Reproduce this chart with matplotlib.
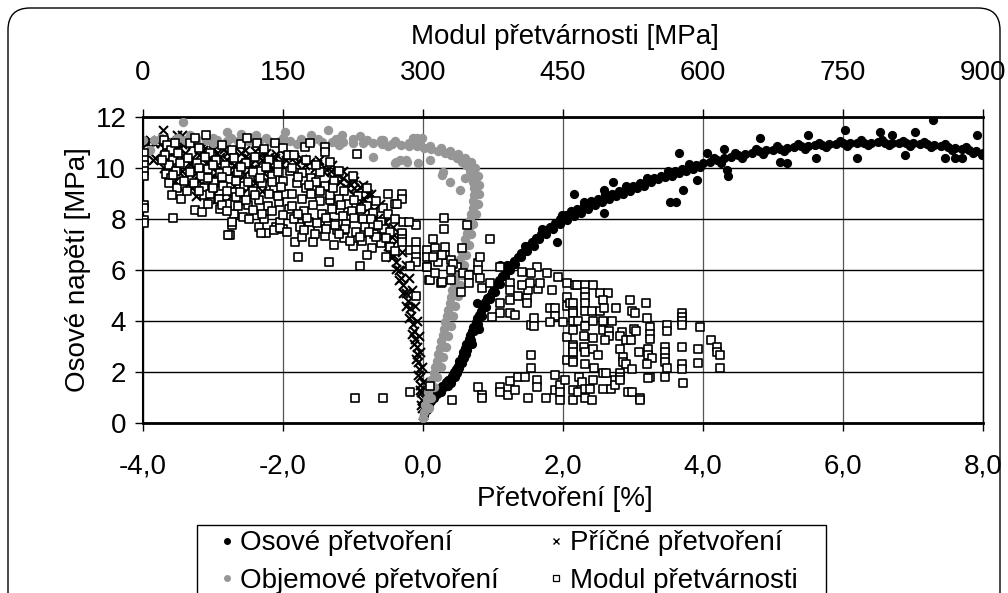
import numpy as np
import matplotlib
matplotlib.use("Agg")
import matplotlib.pyplot as plt
from matplotlib.lines import Line2D
from matplotlib.patches import FancyBboxPatch, Rectangle

plt.rcParams['font.family'] = ['Liberation Sans', 'DejaVu Sans']

# ---- data ----
# axial strain [%], stress [MPa]
osove_body = [
    (0.02, 0.3), (0.05, 0.5), (0.08, 0.7), (0.12, 0.85), (0.16, 1.0), (0.2, 1.15), (0.24, 1.3), (0.27, 1.45),
    (0.3, 1.4), (0.33, 1.6), (0.36, 1.7), (0.39, 1.65), (0.41, 1.85), (0.44, 2.0), (0.47, 2.1), (0.5, 2.25),
    (0.52, 2.45), (0.55, 2.6), (0.57, 2.8), (0.6, 2.95), (0.62, 3.1), (0.65, 3.3), (0.67, 3.45), (0.7, 3.6),
    (0.72, 3.75), (0.75, 3.95), (0.77, 4.1), (0.8, 4.25), (0.83, 4.4), (0.86, 4.6), (0.89, 4.75), (0.92, 4.9),
    (0.95, 5.0), (0.98, 5.15), (1.01, 5.3), (1.05, 5.45), (1.09, 5.6), (1.13, 5.75), (1.17, 5.9), (1.21, 6.05),
    (1.25, 6.2), (1.3, 6.35), (1.35, 6.5), (1.4, 6.65), (1.45, 6.8), (1.5, 6.95), (1.56, 7.1), (1.62, 7.25),
    (1.68, 7.4), (1.75, 7.55), (1.82, 7.7), (1.89, 7.85), (1.96, 8.0), (2.04, 8.15), (2.12, 8.3), (2.2, 8.4),
    (2.3, 8.55), (2.4, 8.7), (2.5, 8.8), (2.6, 8.9), (2.7, 9.0), (2.8, 9.1), (2.9, 9.2), (3.0, 9.3),
    (3.1, 9.4), (3.2, 9.5), (3.3, 9.6), (3.4, 9.7), (3.5, 9.8), (3.6, 9.9), (3.7, 9.95), (3.8, 10.05),
    (3.9, 10.1), (4.0, 10.2), (4.1, 10.25), (4.2, 10.3), (4.3, 10.38), (4.4, 10.45), (4.5, 10.5), (4.6, 10.55),
    (4.7, 10.6), (4.8, 10.65), (4.9, 10.7), (5.0, 10.72), (5.1, 10.76), (5.2, 10.8), (5.3, 10.82), (5.4, 10.85),
    (5.5, 10.88), (5.6, 10.9), (5.7, 10.92), (5.8, 10.95), (5.9, 10.96), (6.0, 10.98), (6.1, 10.99), (6.2, 11.0),
    (6.3, 11.0), (6.4, 11.0), (6.5, 11.02), (6.6, 11.0), (6.7, 11.0), (6.8, 10.99), (6.9, 10.98), (7.0, 10.97),
    (7.1, 10.95), (7.2, 10.93), (7.3, 10.9), (7.4, 10.87), (7.5, 10.84), (7.6, 10.8), (7.7, 10.76), (7.8, 10.7),
    (7.9, 10.66), (8.0, 10.6),
]
osove_okraj = [
    (0.1, 0.95), (0.18, 1.2), (0.26, 1.2), (0.35, 1.45), (0.45, 1.8), (0.52, 2.15), (0.58, 2.55), (0.63, 2.85),
    (0.68, 3.25), (0.73, 3.6), (0.78, 3.9), (0.84, 4.2), (0.9, 4.55), (0.96, 4.85), (1.03, 5.15), (1.1, 5.45),
    (1.17, 5.75), (1.24, 6.0), (1.32, 6.25), (1.4, 6.5), (1.48, 6.75), (1.58, 6.95), (1.66, 7.2), (1.76, 7.4),
    (1.85, 7.6), (1.95, 7.8), (2.05, 7.95), (2.15, 8.1), (2.25, 8.25), (2.35, 8.4), (2.45, 8.55), (2.55, 8.65),
    (2.65, 8.8), (2.75, 8.9), (2.85, 9.0), (2.95, 9.1), (3.05, 9.2), (3.15, 9.3), (3.25, 9.45), (3.35, 9.55),
    (3.45, 9.65), (3.55, 9.7), (3.65, 9.8), (3.75, 9.9), (3.85, 9.95), (3.95, 10.05), (1.2, 6.2), (1.45, 6.95),
    (1.7, 7.6), (1.98, 8.15), (2.3, 8.65), (2.6, 9.0), (2.9, 9.3), (3.2, 9.6), (3.5, 9.9), (3.8, 10.15),
    (4.15, 10.4), (4.45, 10.6), (4.75, 10.75), (5.05, 10.85), (5.35, 10.95), (5.65, 11.0), (5.95, 11.05),
    (6.25, 11.1), (6.55, 11.08), (6.85, 11.07), (7.15, 11.03), (7.45, 10.95), (7.75, 10.82), (4.25, 10.2),
    (4.55, 10.38), (4.85, 10.55), (5.15, 10.65), (5.45, 10.75), (5.75, 10.82), (6.05, 10.88), (6.35, 10.9),
    (6.65, 10.9), (6.95, 10.88), (7.25, 10.82), (7.55, 10.72), (7.85, 10.6), (7.98, 10.52),
    (0.4, 1.55), (0.48, 1.95), (0.55, 2.35), (0.62, 2.7), (0.7, 3.1), (0.8, 3.7),
]
osove_odlehle = [
    (7.29, 11.88), (3.62, 8.68), (3.72, 9.14), (2.72, 9.46), (3.65, 10.58), (4.82, 11.17), (5.2, 10.2),
    (5.1, 10.25), (5.62, 10.38), (6.03, 11.49), (6.2, 10.38), (6.53, 11.42), (7.03, 11.42), (7.91, 11.29),
    (7.46, 10.38), (7.6, 10.38), (7.7, 10.4), (6.89, 10.5), (4.34, 9.92), (4.36, 9.69), (3.91, 9.53),
    (2.58, 8.22), (2.58, 9.14), (2.15, 9.0), (3.53, 8.68), (1.91, 7.11), (0.77, 4.7), (1.1, 6.2),
    (4.3, 10.75), (5.5, 11.3), (6.7, 11.3), (4.05, 10.6),
]

# transverse strain [%], stress [MPa]
pricne_body = [
    (0.0, 0.3), (-0.01, 0.6), (-0.02, 0.9), (-0.03, 1.2), (-0.04, 1.5), (-0.05, 1.8), (-0.06, 2.1), (-0.07, 2.4),
    (-0.08, 2.7), (-0.09, 3.0), (-0.11, 3.3), (-0.13, 3.6), (-0.15, 3.9), (-0.17, 4.2), (-0.19, 4.5), (-0.22, 4.8),
    (-0.25, 5.1), (-0.28, 5.4), (-0.31, 5.7), (-0.35, 6.0), (-0.39, 6.3), (-0.43, 6.6), (-0.47, 6.9), (-0.51, 7.2),
    (-0.55, 7.5), (-0.6, 7.8), (-0.65, 8.05), (-0.71, 8.3), (-0.77, 8.55), (-0.84, 8.8), (-0.91, 9.0), (-0.98, 9.2),
    (-1.06, 9.4), (-1.14, 9.6), (-1.23, 9.75), (-1.32, 9.9), (-1.42, 10.05), (-1.52, 10.15), (-1.62, 10.25),
    (-1.73, 10.35), (-1.85, 10.45), (-1.97, 10.5), (-2.1, 10.55), (-2.25, 10.6), (-2.4, 10.65), (-2.55, 10.7),
    (-2.7, 10.72), (-2.85, 10.75), (-3.0, 10.8), (-3.15, 10.85), (-3.3, 10.9), (-3.45, 10.95), (-3.6, 11.0),
    (-3.75, 11.0), (-3.9, 11.05), (-4.0, 11.05),
    (-0.03, 0.7), (-0.05, 1.3), (-0.07, 1.9), (-0.1, 2.5), (-0.13, 3.1), (-0.16, 3.5), (-0.2, 4.1), (-0.24, 4.6),
    (-0.29, 5.1), (-0.34, 5.6), (-0.39, 6.05), (-0.45, 6.5), (-0.5, 6.95), (-0.57, 7.35), (-0.64, 7.75),
    (-0.72, 8.1), (-0.8, 8.4), (-0.89, 8.7), (-0.98, 8.95), (-1.08, 9.2), (-1.18, 9.45), (-1.3, 9.65),
    (-1.42, 9.85), (-1.55, 10.0), (-1.68, 10.1), (-1.82, 10.2), (-1.96, 10.3), (-2.12, 10.38),
    (-0.98, 9.5), (-0.78, 9.0), (-0.9, 9.25), (-0.55, 7.9), (-0.45, 7.3),
    (0.02, 1.0), (0.0, 1.6), (-0.02, 2.2), (-0.04, 2.8), (-0.06, 3.4), (-0.09, 4.0), (-0.12, 4.6),
    (-0.16, 5.2), (-0.2, 5.7), (-0.25, 6.2), (-0.3, 6.7), (-0.36, 7.2), (-0.43, 7.7), (-0.52, 8.2),
    (-0.62, 8.6), (-0.74, 9.0), (-0.86, 9.35), (-1.0, 9.65), (-1.15, 9.9), (-1.3, 10.1), (-1.48, 10.3),
]
pricne_vlevo = [
    (-3.71, 11.49), (-3.52, 11.29), (-3.83, 10.38), (-3.86, 10.3), (-3.45, 11.3), (-3.95, 11.0), (-3.9, 11.1),
    (-3.85, 11.0), (-3.8, 11.05), (-3.65, 10.0), (-3.6, 10.2), (-3.55, 10.4), (-3.62, 10.6), (-3.5, 10.8),
    (-3.58, 11.0), (-3.66, 10.3), (-3.52, 10.1), (-3.6, 9.85), (-3.48, 10.5), (-3.55, 10.7),
    (-3.2, 10.5), (-3.1, 10.2), (-3.0, 10.4), (-2.9, 10.0), (-2.8, 10.3), (-2.7, 10.1), (-2.6, 9.9),
    (-2.5, 10.2), (-2.4, 10.0), (-2.3, 10.3), (-2.2, 10.1), (-3.25, 9.8), (-3.05, 9.6), (-2.85, 9.7),
    (-2.65, 9.5), (-2.45, 9.6), (-3.15, 10.7), (-2.95, 10.6), (-2.75, 10.5), (-2.55, 10.45), (-2.35, 10.45),
    (-2.15, 10.3), (-2.05, 10.2),
]
pricne_shluk = [
    (-3.5, 9.3), (-3.4, 9.6), (-3.3, 9.2), (-3.2, 9.5), (-3.1, 9.3), (-3.0, 9.0), (-2.9, 9.4), (-2.8, 9.1),
    (-2.7, 9.3), (-2.6, 9.0), (-2.5, 9.2), (-2.4, 9.4), (-2.3, 9.1), (-2.2, 9.6), (-2.1, 9.8),
    (-3.45, 9.9), (-3.35, 10.2), (-3.25, 10.0), (-3.15, 9.9), (-3.05, 10.1), (-2.95, 9.8), (-2.85, 10.05),
    (-2.75, 9.8), (-2.65, 10.2), (-2.55, 9.75), (-2.45, 9.95), (-2.35, 9.7), (-2.25, 9.9), (-2.15, 10.0),
    (-3.4, 10.6), (-3.3, 10.4), (-3.2, 10.75), (-3.1, 10.55), (-3.0, 10.7), (-2.9, 10.45), (-2.8, 10.6),
    (-2.7, 10.35), (-2.6, 10.6), (-2.5, 10.4), (-2.4, 10.3), (-2.3, 10.6), (-2.2, 10.45),
    (-3.55, 9.5), (-3.6, 9.6), (-3.65, 9.75), (-3.7, 10.0), (-3.68, 10.45), (-3.7, 10.8), (-3.62, 11.1),
    (-3.5, 11.05), (-3.4, 11.0), (-3.3, 10.2), (-3.35, 9.4), (-3.15, 9.0), (-2.95, 8.8), (-2.75, 8.9),
    (-2.55, 8.7), (-3.25, 8.9),
]

# volumetric strain [%], stress [MPa]
objemove_body = [
    (0.0, 0.2), (0.01, 0.45), (0.03, 0.7), (0.05, 0.95), (0.07, 1.2), (0.1, 1.45), (0.12, 1.7), (0.15, 1.95),
    (0.17, 2.2), (0.2, 2.45), (0.22, 2.7), (0.24, 2.95), (0.26, 3.2), (0.28, 3.45), (0.3, 3.7), (0.32, 3.95),
    (0.34, 4.2), (0.36, 4.45), (0.38, 4.7), (0.4, 4.95), (0.42, 5.2), (0.44, 5.45), (0.46, 5.7), (0.48, 5.95),
    (0.5, 6.2), (0.53, 6.45), (0.55, 6.7), (0.58, 6.95), (0.6, 7.2), (0.63, 7.45), (0.65, 7.7), (0.67, 7.95),
    (0.69, 8.2), (0.71, 8.45), (0.72, 8.7), (0.73, 8.95), (0.73, 9.2), (0.72, 9.45), (0.7, 9.7), (0.67, 9.9),
    (0.62, 10.1), (0.56, 10.25), (0.48, 10.4), (0.4, 10.5), (0.32, 10.6), (0.22, 10.68), (0.12, 10.75),
    (0.02, 10.8), (-0.08, 10.85), (-0.2, 10.88), (-0.32, 10.9), (-0.45, 10.93), (-0.58, 10.95), (-0.72, 10.97),
    (-0.86, 11.0), (-1.0, 11.0), (-1.15, 11.02), (-1.3, 11.02), (-1.45, 11.03), (-1.6, 11.03), (-1.75, 11.04),
    (-1.9, 11.05), (-2.05, 11.05), (-2.2, 11.05), (-2.35, 11.06), (-2.5, 11.06), (-2.65, 11.07), (-2.8, 11.07),
    (-2.95, 11.08), (-3.1, 11.08), (-3.25, 11.08), (-3.4, 11.09), (-3.55, 11.09), (-3.7, 11.1), (-3.85, 11.1),
    (-4.0, 11.1),
    (0.08, 0.6), (0.12, 1.0), (0.16, 1.4), (0.2, 1.8), (0.25, 2.2), (0.29, 2.6), (0.33, 3.0), (0.36, 3.4),
    (0.4, 3.8), (0.43, 4.2), (0.46, 4.6), (0.5, 5.0), (0.53, 5.4), (0.56, 5.8), (0.59, 6.2), (0.62, 6.6),
    (0.66, 7.0), (0.69, 7.4), (0.72, 7.8), (0.75, 8.2), (0.78, 8.6), (0.8, 9.0), (0.8, 9.35), (0.78, 9.7),
    (0.74, 10.0), (0.68, 10.25), (0.6, 10.4), (0.5, 10.55), (0.38, 10.68), (0.25, 10.78), (0.1, 10.88),
    (-0.05, 10.95), (-0.2, 11.0), (-0.4, 11.05), (-0.6, 11.08), (-0.8, 11.1), (-1.0, 11.12), (-1.25, 11.14),
    (-1.5, 11.15), (-1.75, 11.15), (-2.0, 11.16), (-2.25, 11.16), (-2.5, 11.17), (-2.75, 11.17), (-3.0, 11.17),
    (-3.25, 11.17), (-3.5, 11.18), (-3.75, 11.18), (-0.5, 10.85), (-1.2, 10.9), (-1.8, 10.95), (-2.4, 10.97),
    (-3.0, 10.98), (-3.6, 11.0),
]
objemove_odlehle = [
    (-3.43, 11.82), (-2.8, 11.42), (-2.38, 11.29), (-1.97, 11.42), (-3.33, 11.29), (-1.36, 11.49),
    (-1.16, 11.29), (-0.4, 10.2), (-0.23, 10.25), (-0.09, 11.17), (-0.71, 10.44), (-4.0, 10.58),
    (-0.38, 10.25), (-0.33, 10.3), (0.29, 9.86), (0.53, 9.14), (0.39, 9.46), (-0.57, 11.1), (-0.14, 11.17),
    (-0.02, 11.17), (-0.07, 10.2), (0.27, 9.72), (-0.24, 10.3), (-3.9, 10.7), (-2.6, 11.35), (-1.6, 11.3),
    (-0.9, 11.25), (0.6, 9.6), (0.1, 10.3),
]

# deformation modulus [MPa], stress [MPa]
modul_vysoke = [
    (1, 10.6), (1, 10.3), (1, 10.1), (1, 9.9), (1, 9.7), (1, 8.55), (1, 8.43), (1, 7.96), (1, 7.85),
    (22, 11.1), (26, 10.9), (30, 10.7), (24, 10.5), (32, 10.3), (28, 10.1), (35, 9.9), (25, 9.75), (38, 10.6),
    (34, 11.0), (20, 10.3), (40, 10.2), (30, 9.6), (28, 9.4), (36, 9.2), (32, 9.73), (31, 8.94), (41, 8.8),
    (32, 8.04), (44, 9.5), (47, 9.1),
    (50, 11.0), (56, 11.17), (68, 11.29), (60, 10.8), (72, 10.6), (85, 10.9), (95, 10.7), (105, 10.95),
    (111, 11.17), (122, 10.98), (141, 10.98), (130, 10.75), (150, 10.8), (48, 10.4), (58, 10.2), (66, 10.45),
    (78, 10.3), (88, 10.1), (98, 10.4), (110, 10.2), (120, 10.45), (135, 10.3), (145, 10.1), (155, 10.5),
    (50, 9.86), (62, 9.7), (70, 9.95), (82, 9.8), (92, 9.55), (102, 9.85), (115, 9.65), (125, 9.9), (138, 9.7),
    (150, 9.5), (158, 9.9), (55, 9.4), (65, 9.2), (76, 9.45), (86, 9.3), (96, 9.05), (108, 9.3), (118, 9.1),
    (128, 9.4), (140, 9.2), (152, 9.0), (65, 8.94), (80, 8.8), (90, 8.6), (100, 8.85), (112, 8.55), (124, 8.75),
    (134, 8.5), (146, 8.65), (156, 8.4), (56, 8.35), (63, 8.29), (82, 8.4), (81, 8.8), (97, 8.2), (107, 8.09),
    (114, 8.0), (124, 7.7), (132, 7.44), (143, 7.7), (130, 8.0), (147, 7.9), (150, 7.6), (93, 7.37), (95, 7.76),
    (91, 7.37), (95, 7.9), (126, 7.44), (140, 7.55), (147, 7.65), (154, 7.5), (72, 9.0),
    (60, 10.0), (75, 10.1), (90, 9.9), (105, 10.05), (118, 9.85), (132, 10.05), (145, 9.85), (70, 9.6),
    (85, 9.65), (100, 9.5), (112, 9.45), (125, 9.6), (138, 9.45), (148, 9.25), (60, 9.1), (75, 9.2),
    (90, 9.1), (104, 9.05), (120, 8.95), (135, 9.0), (145, 8.9), (85, 8.55), (102, 8.5), (118, 8.35),
    (138, 8.3), (70, 8.6), (110, 8.75), (128, 8.2), (150, 8.15), (90, 8.3),
]
modul_stredni = [
    (174, 10.84), (179, 10.97), (195, 10.84), (195, 10.64), (200, 10.25), (229, 10.53), (263, 9.0), (277, 9.0),
    (277, 8.8), (270, 8.6), (257, 8.45), (279, 7.9), (293, 7.76), (277, 7.37), (200, 8.75), (211, 8.35),
    (163, 7.11), (166, 6.52), (199, 6.33), (232, 6.17), (272, 8.6), (277, 7.44), (277, 7.2), (293, 7.11),
    (286, 6.78), (293, 6.8), (293, 6.5), (293, 6.3), (304, 6.8), (304, 6.5), (304, 6.1), (286, 6.17),
    (293, 4.99), (306, 5.6),
    (160, 10.0), (170, 9.8), (180, 9.6), (190, 9.85), (165, 9.4), (175, 9.2), (185, 9.45), (195, 9.3),
    (205, 9.5), (215, 9.1), (160, 9.0), (170, 8.8), (180, 9.0), (190, 8.7), (200, 8.95), (210, 8.8),
    (220, 8.6), (230, 8.9), (240, 8.5), (160, 8.5), (172, 8.3), (182, 8.55), (192, 8.2), (202, 8.4),
    (214, 8.1), (224, 8.3), (236, 8.0), (246, 8.25), (255, 7.9), (162, 8.0), (168, 7.7), (178, 7.9),
    (188, 7.6), (198, 7.85), (208, 7.55), (218, 7.8), (228, 7.5), (238, 7.7), (248, 7.4), (258, 7.6),
    (170, 7.3), (182, 7.1), (195, 7.35), (205, 7.0), (215, 7.25), (225, 6.95), (235, 7.15), (245, 6.85),
    (255, 7.05), (265, 6.9), (240, 6.6), (260, 6.5), (270, 6.75), (250, 7.3), (265, 7.5), (175, 10.3),
    (185, 10.1), (162, 10.5), (210, 9.9), (225, 9.7), (240, 9.2), (250, 8.7), (262, 8.2), (270, 8.0),
    (166, 9.65), (178, 9.35), (190, 9.1), (204, 9.2), (212, 8.55), (226, 8.75), (234, 8.4), (244, 8.0),
    (252, 7.75), (166, 8.2), (176, 8.05), (186, 7.85), (196, 8.05), (206, 7.75), (216, 7.6), (226, 8.05),
    (232, 7.3), (242, 7.5), (172, 7.55), (184, 7.4), (196, 7.6), (210, 7.4), (222, 7.15), (260, 7.25),
]
modul_nizke = [
    (322, 8.03), (285, 7.9), (322, 7.6), (347, 7.76), (372, 7.2), (311, 7.2), (278, 7.1), (313, 6.86),
    (313, 6.6), (324, 6.9), (324, 6.6), (342, 6.86), (330, 6.4), (316, 6.3), (307, 5.6), (319, 5.5),
    (330, 5.6), (341, 5.15), (359, 6.26), (359, 6.0), (361, 5.7), (304, 6.13), (311, 6.5), (320, 6.6),
    (336, 6.13), (343, 5.9), (332, 6.25), (330, 6.0), (313, 5.9), (320, 5.54), (349, 5.8), (349, 5.5),
    (361, 6.52), (363, 5.3), (372, 5.48), (382, 6.13), (393, 5.48), (393, 5.2), (382, 4.7), (382, 4.3),
    (393, 4.3), (399, 4.23), (374, 4.17), (393, 4.82), (402, 5.0), (411, 4.9), (411, 4.7), (423, 5.25),
    (413, 5.2), (436, 4.5), (441, 4.5), (441, 4.2), (450, 3.97), (454, 4.95), (454, 4.6), (458, 4.7),
    (454, 5.5), (463, 5.4), (445, 5.74), (433, 5.87), (422, 6.13), (416, 5.9), (406, 5.93), (406, 5.4),
    (415, 5.5), (425, 5.5), (438, 5.2), (416, 2.67), (416, 2.15), (416, 3.84), (419, 4.1), (419, 3.8),
    (436, 3.97), (454, 3.38), (454, 2.47), (461, 2.47), (461, 3.06), (461, 2.86), (461, 3.65),
    (465, 5.41), (474, 5.41), (474, 5.15), (474, 4.95), (482, 5.41), (490, 5.08), (498, 5.08), (493, 4.82),
    (461, 4.7), (461, 4.4), (461, 4.3), (474, 4.7), (474, 4.4), (481, 4.4), (490, 4.4), (494, 4.5),
    (507, 4.5), (522, 4.82), (524, 4.4), (527, 4.3), (539, 4.7), (461, 4.0), (466, 4.0), (474, 3.8),
    (482, 4.0), (493, 4.0), (502, 4.0), (473, 3.4), (482, 3.33), (493, 3.65), (499, 3.6), (499, 3.4),
    (495, 3.26), (513, 3.58), (511, 3.4), (517, 3.26), (523, 3.26), (526, 3.7), (528, 3.6), (543, 3.76),
    (543, 3.5), (543, 3.3), (540, 4.1), (561, 3.84), (561, 3.6), (577, 4.3), (577, 4.17), (577, 4.0),
    (577, 3.84), (597, 3.78), (461, 3.0), (461, 2.8), (461, 2.4), (473, 3.0), (474, 2.8), (482, 2.9),
    (488, 2.67), (474, 2.3), (483, 2.15), (511, 2.9), (514, 2.6), (514, 2.4), (518, 2.3), (524, 2.1),
    (531, 2.8), (541, 2.9), (541, 2.67), (545, 2.55), (540, 2.3), (559, 3.0), (559, 2.8), (559, 2.55),
    (559, 2.4), (561, 2.15), (577, 3.0), (577, 2.3), (577, 2.1), (595, 2.9), (595, 2.35), (609, 3.26),
    (615, 3.0), (615, 2.8), (618, 2.67), (618, 2.15),
    (257, 0.97), (286, 1.23), (307, 1.45), (331, 0.9), (227, 0.98), (359, 1.42), (363, 1.1), (363, 1.0),
    (382, 1.42), (382, 1.23), (393, 1.65), (391, 1.1), (399, 1.3), (402, 1.82), (409, 1.82), (413, 0.97),
    (422, 1.7), (422, 1.4), (432, 0.97), (441, 1.9), (441, 1.3), (447, 1.5), (447, 1.2), (447, 0.9),
    (452, 1.7), (461, 1.3), (461, 0.9), (467, 1.8), (470, 1.6), (482, 1.7), (466, 1.2), (474, 1.32),
    (474, 1.0), (479, 1.32), (481, 0.9), (493, 1.35), (501, 1.35), (506, 1.7), (506, 1.5), (520, 1.2),
    (524, 1.2), (532, 1.0), (532, 0.9), (493, 1.95), (496, 1.95), (511, 1.95), (511, 1.82), (511, 1.7),
    (543, 1.82), (541, 1.75), (559, 1.82), (579, 1.56),
]

x_ticks = [-4, -2, 0, 2, 4, 6, 8]
x_tick_labels = ['-4,0', '-2,0', '0,0', '2,0', '4,0', '6,0', '8,0']
y_ticks = [0, 2, 4, 6, 8, 10, 12]
top_ticks = [0, 150, 300, 450, 600, 750, 900]

legend_names = ['Osové přetvoření', 'Objemové přetvoření', 'Příčné přetvoření', 'Modul přetvárnosti']

GREY = '#969696'
FS = 20


def xy(*lists):
    a = np.array([p for l in lists for p in l], dtype=float)
    return a[:, 0], a[:, 1]


fig = plt.figure(figsize=(10.08, 5.93), dpi=100)
ax = fig.add_axes([143 / 1008, 1 - 423 / 593, 840 / 1008, 306 / 593])

ox, oy = xy(osove_body, osove_okraj, osove_odlehle)
ax.scatter(ox, oy, s=44, marker='o', color='black', linewidths=0, zorder=3)

px, py = xy(pricne_body, pricne_vlevo, pricne_shluk)
ax.scatter(px, py, s=42, marker='x', color='black', linewidths=1.5, zorder=4)

vx, vy = xy(objemove_body, objemove_odlehle)
ax.scatter(vx, vy, s=46, marker='o', color=GREY, linewidths=0, zorder=5)

ax.set_xlim(-4, 8)
ax.set_ylim(0, 12)
ax.set_xticks(x_ticks)
ax.set_xticklabels(x_tick_labels)
ax.set_yticks(y_ticks)
ax.grid(True, axis='y', color='black', linewidth=1.0, zorder=1)
ax.grid(True, axis='x', color='#555555', linewidth=0.9, zorder=1)
ax.set_axisbelow(True)
ax.tick_params(axis='x', direction='out', length=6, width=1, labelsize=FS, pad=16)
ax.tick_params(axis='y', direction='out', length=6, width=1, labelsize=FS, pad=6)
for side, lw in [('top', 2.0), ('bottom', 2.0), ('left', 1.5), ('right', 1.0)]:
    ax.spines[side].set_linewidth(lw)
ax.set_xlabel('Přetvoření [%]', fontsize=FS)
ax.xaxis.set_label_coords(0.502, -0.205)
ax.set_ylabel('Osové napětí [MPa]', fontsize=FS)
ax.yaxis.set_label_coords(-0.062, 0.5)

ax2 = ax.twiny()
ex, ey = xy(modul_vysoke, modul_stredni, modul_nizke)
ax2.scatter(ex, ey, s=27, marker='s', facecolors='white', edgecolors='black', linewidths=1.2, zorder=6)
ax2.set_xlim(0, 900)
ax2.set_xticks(top_ticks)
ax2.tick_params(axis='x', direction='out', length=6, width=1, labelsize=FS, pad=16)
ax2.set_xlabel('Modul přetvárnosti [MPa]', fontsize=FS)
ax2.xaxis.set_label_coords(0.502, 1.24)

# outer rounded frame (bottom runs below the image, as in the reference)
fig.patches.append(FancyBboxPatch((8, -30), 992, 615, boxstyle='round,pad=0,rounding_size=22',
                                  transform=None, facecolor='none', edgecolor='black', linewidth=1.0))
fig.patches.append(Rectangle((197, -10), 629, 78, transform=None, facecolor='none',
                             edgecolor='black', linewidth=1.0))

handles = [
    Line2D([], [], linestyle='none', marker='o', markersize=4, color='black'),
    Line2D([], [], linestyle='none', marker='o', markersize=4, color=GREY, markeredgecolor=GREY),
    Line2D([], [], linestyle='none', marker='x', markersize=4.5, color='black', markeredgewidth=1),
    Line2D([], [], linestyle='none', marker='s', markersize=4, markerfacecolor='white',
           markeredgecolor='black', markeredgewidth=0.9),
]
fig.legend(handles, legend_names, ncol=2, loc='upper left', bbox_to_anchor=(203 / 1008, 1 - 511 / 593),
           frameon=False, fontsize=FS, handlelength=0.3, handletextpad=0.35, columnspacing=1.9,
           labelspacing=0.4, borderpad=0.2)

fig.savefig('out.png', dpi=100)
